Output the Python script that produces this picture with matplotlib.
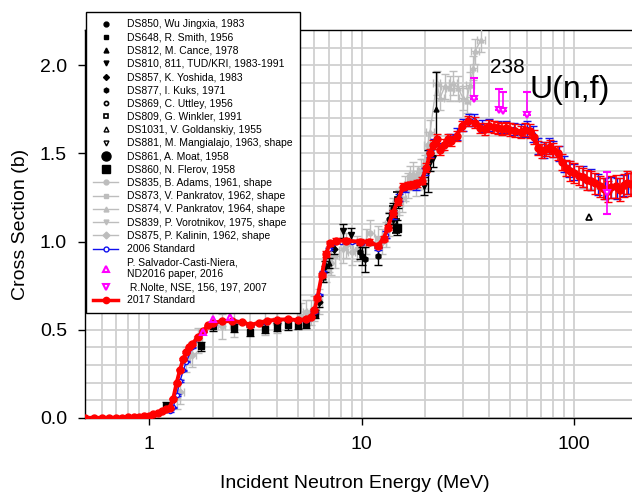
import matplotlib
matplotlib.use("Agg")
import matplotlib.pyplot as plt
from matplotlib.lines import Line2D
from matplotlib.ticker import FixedLocator, NullFormatter, FuncFormatter, MultipleLocator
import numpy as np

plt.rcParams['font.family'] = ['Liberation Sans', 'DejaVu Sans']

# ---- 2017 Standard ----
e17 = [0.5, 0.55, 0.6, 0.65, 0.7, 0.75, 0.8, 0.85, 0.9, 0.95,
       1.0, 1.05, 1.1, 1.15, 1.2, 1.25, 1.3, 1.35, 1.4, 1.45,
       1.5, 1.55, 1.6, 1.7, 1.8, 1.9, 2.0, 2.2, 2.45, 2.75,
       3.0, 3.3, 3.6, 4.0, 4.5, 5.0, 5.5, 5.8, 6.0, 6.2,
       6.5, 6.8, 7.1, 7.6, 8.5, 9.8, 10.9, 11.9, 12.7, 13.3,
       14.0, 14.8, 15.7, 16.5, 17.4, 18.3, 19.2, 20.2, 21.0, 21.8,
       22.6, 23.5, 24.5, 25.5, 26.5, 28.0, 29.6, 31.8, 34.2, 36.0,
       38, 40, 42, 44, 46, 48, 50, 53, 56, 59,
       62, 65, 68, 71, 74, 77, 80, 84, 88, 92,
       96, 100, 105, 110, 115, 120, 126, 132, 138, 144,
       150, 157, 164, 171, 178, 185, 192, 200]
s17 = [.001, .001, .001, .001, .002, .002, .003, .004, .006, .009,
       .014, .022, .030, .040, .050, .058, .110, .200, .275, .335,
       .375, .400, .420, .460, .495, .525, .540, .548, .550, .543,
       .528, .540, .552, .557, .560, .555, .560, .575, .610, .680,
       .810, .930, .990, 1.005, 1.005, 1.000, .998, .977, 1.017, 1.080,
       1.160, 1.230, 1.310, 1.320, 1.322, 1.330, 1.345, 1.420, 1.500, 1.550,
       1.580, 1.520, 1.550, 1.580, 1.570, 1.600, 1.655, 1.685, 1.675, 1.645,
       1.640, 1.655, 1.650, 1.645, 1.640, 1.645, 1.635, 1.630, 1.620, 1.635,
       1.625, 1.595, 1.530, 1.515, 1.525, 1.535, 1.520, 1.505, 1.450, 1.420,
       1.400, 1.390, 1.375, 1.365, 1.350, 1.345, 1.330, 1.315, 1.300, 1.285,
       1.310, 1.315, 1.295, 1.320, 1.335, 1.325, 1.330, 1.330]
u17 = [0, 0, 0, 0, 0, 0, 0, 0, 0, 0,
       0, 0, 0, 0, 0, 0, .005, .005, .005, .005,
       .005, .005, .005, .005, .005, .005, .005, .005, .005, .005,
       .005, .005, .005, .005, .005, .005, .005, .005, .008, .01,
       .012, .015, .015, .015, .015, .015, .015, .015, .015, .015,
       .02, .02, .02, .02, .02, .02, .02, .025, .025, .025,
       .03, .03, .03, .03, .03, .03, .03, .03, .03, .03,
       .035, .035, .035, .035, .035, .035, .035, .035, .035, .035,
       .04, .04, .04, .04, .04, .04, .04, .04, .045, .045,
       .055, .055, .055, .055, .055, .055, .06, .06, .06, .06,
       .065, .065, .065, .065, .065, .065, .065, .065]

# ---- 2006 Standard ----
e06 = [0.5, 0.7, 0.9, 1.0, 1.1, 1.2, 1.25, 1.3, 1.35, 1.4,
       1.45, 1.5, 1.6, 1.8, 2.0, 2.5, 3.0, 3.5, 4.0, 5.0,
       5.5, 6.0, 6.3, 6.6, 7.0, 8.0, 9.0, 10, 11, 12,
       13, 14, 15, 16, 18, 20, 21, 22, 24, 26,
       28, 30, 32, 34, 37, 40, 44, 48, 52, 56,
       60, 64, 68, 72, 76, 80, 85, 90, 95, 100,
       110, 120, 130, 140, 150, 160, 170, 180, 190, 200]
s06 = [.001, .002, .006, .013, .029, .045, .040, .060, .130, .210,
       .270, .320, .400, .490, .535, .548, .525, .545, .555, .553,
       .556, .600, .700, .830, .960, 1.000, 1.000, .995, .995, .960,
       1.040, 1.150, 1.250, 1.300, 1.315, 1.400, 1.500, 1.560, 1.540, 1.590,
       1.610, 1.660, 1.690, 1.690, 1.655, 1.660, 1.650, 1.650, 1.640, 1.630,
       1.640, 1.610, 1.540, 1.520, 1.540, 1.525, 1.500, 1.440, 1.410, 1.395,
       1.370, 1.350, 1.325, 1.300, 1.305, 1.300, 1.320, 1.330, 1.330, 1.335]
u06 = [.005] * 30 + [.02] * 10 + [.035] * 10 + [.045] * 10 + [.06] * 10

# ---- black data sets ----
e_wu, s_wu = [13.4, 14.1, 14.8], [1.13, 1.19, 1.22]
e_smith = [1.2, 1.75, 2.0, 2.5, 3.0, 3.5, 4.0, 4.5, 5.0, 5.5, 6.05]
s_smith = [0.068, 0.407, 0.52, 0.51, 0.49, 0.507, 0.516, 0.525, 0.53, 0.535, 0.59]
e_cance, s_cance, u_cance = [6.6, 7.0, 22.4], [0.80, 0.88, 1.75], [0.03, 0.03, 0.21]
e_tud = [8.2, 8.9, 19.7, 20.5, 21.0, 21.8]
s_tud = [1.06, 1.04, 1.317, 1.40, 1.45, 1.475]
u_tud = [0.04, 0.04, 0.05, 0.12, 0.05, 0.05]
e_yosh, s_yosh = [6.3, 6.75, 7.4], [0.66, 0.86, 0.96]
e_kuks, s_kuks, u_kuks = [9.8, 10.0, 10.4, 12.0], [0.94, 0.92, 0.90, 0.92], [0.04, 0.05, 0.07, 0.05]
e_uttl, s_uttl = [14.6], [1.09]
e_wink, s_wink = [14.1, 14.7], [1.16, 1.24]
e_gold, s_gold = [118], [1.14]
e_mang, s_mang = [14.0], [1.12]
e_moat, s_moat = [14.1], [1.14]
e_fler, s_fler = [14.7], [1.08]

# ---- grey shape data ----
e_adams = [1.35, 1.5, 1.7, 2.5, 4.0, 5.5, 7.2, 9.0, 11.0, 13.5, 15.0, 17.0, 19.0]
s_adams = [0.12, 0.33, 0.44, 0.53, 0.55, 0.60, 0.88, 0.94, 1.05, 1.10, 1.22, 1.36, 1.40]
e_pk62 = [5.2, 6.0, 7.5, 9.5, 12.0, 14.5, 16.0, 18.0, 20.0]
s_pk62 = [0.58, 0.62, 0.92, 0.96, 1.02, 1.16, 1.30, 1.33, 1.42]
e_pk64 = [14.0, 16.5, 19.5, 21.0, 22.6, 23.4, 24.7, 26.1, 27.0, 28.5, 30.0, 31.2, 32.4, 33.6, 34.2, 36.6]
s_pk64 = [1.18, 1.32, 1.40, 1.62, 1.90, 1.815, 1.88, 1.87, 1.90, 1.87, 1.815, 1.80, 1.89, 1.985, 2.08, 2.145]
e_voro = [6.3, 6.8, 8.2, 10.5, 13.0, 15.5, 18.5]
s_voro = [0.66, 0.84, 0.95, 1.0, 1.04, 1.24, 1.36]
e_kali = [1.4, 1.6, 2.2, 3.5, 5.8, 7.0, 8.5, 12.5, 17.5, 20.5]
s_kali = [0.15, 0.36, 0.52, 0.54, 0.60, 0.90, 0.98, 1.0, 1.38, 1.55]

# ---- magenta ----
e_salv, s_salv = [1.8, 2.0, 2.4], [0.49, 0.56, 0.573]
e_nolte = [33.8, 44.3, 46.5, 60.0, 143.0]
s_nolte = [1.806, 1.746, 1.74, 1.718, 1.274]
u_nolte_lo = [0, 0, 0, 0, 0.12]
u_nolte_hi = [0.12, 0.12, 0.11, 0.13, 0.12]

fig = plt.figure(figsize=(6.32, 4.93), dpi=100)
ax = fig.add_axes([85 / 632, 75 / 493, 553 / 632, 388 / 493])
ax.set_xscale('log')
ax.set_xlim(0.5, 200)
ax.set_ylim(0, 2.2)

grey = '#bdbdbd'
for e, s, m in [(e_adams, s_adams, 'o'), (e_pk62, s_pk62, 's'), (e_pk64, s_pk64, '^'),
                (e_voro, s_voro, 'v'), (e_kali, s_kali, 'D')]:
    ax.errorbar(e, s, yerr=0.07, xerr=np.array(e) * 0.04, fmt=m, ms=3.5, color=grey,
                ecolor=grey, elinewidth=1, capsize=3, zorder=3)
ax.plot(e_pk64, s_pk64, '-', color=grey, lw=1, zorder=3)

blk = dict(color='black', ecolor='black', elinewidth=1, capsize=3, zorder=4)
ax.errorbar(e_wu, s_wu, yerr=0.03, fmt='o', ms=3.5, **blk)
ax.errorbar(e_smith, s_smith, yerr=0.025, fmt='s', ms=4.5, **blk)
ax.errorbar(e_cance, s_cance, yerr=u_cance, fmt='^', ms=3.5, **blk)
ax.errorbar(e_tud, s_tud, yerr=u_tud, fmt='v', ms=4, **blk)
ax.errorbar(e_yosh, s_yosh, yerr=0.03, fmt='D', ms=3.5, **blk)
ax.errorbar(e_kuks, s_kuks, yerr=u_kuks, fmt='h', ms=4, **blk)
ax.errorbar(e_uttl, s_uttl, yerr=0.04, fmt='o', ms=3.5, mfc='white', mew=1.2, **blk)
ax.errorbar(e_wink, s_wink, yerr=0.04, fmt='s', ms=3.5, mfc='white', mew=1.2, **blk)
ax.plot(e_gold, s_gold, '^', ms=4, mfc='white', mec='black', mew=1.2, zorder=4)
ax.errorbar(e_mang, s_mang, yerr=0.04, fmt='v', ms=3.5, mfc='white', mew=1.2, **blk)
ax.errorbar(e_moat, s_moat, yerr=0.04, fmt='o', ms=5.5, **blk)
ax.errorbar(e_fler, s_fler, yerr=0.04, fmt='s', ms=5.5, **blk)

ax.errorbar(e06, s06, yerr=u06, fmt='-o', color='#1010ee', ms=3, mfc='white', mew=1,
            lw=1, elinewidth=1, capsize=3, zorder=5)
ax.errorbar(e17, s17, yerr=u17, fmt='-o', color='#ff0000', ms=5, lw=2.8,
            elinewidth=1.2, capsize=3, zorder=6)

ax.plot(e_salv, s_salv, '^', ms=5, mfc='none', mec='#ff00ff', mew=1.5, zorder=7)
ax.errorbar(e_nolte, s_nolte, yerr=[u_nolte_lo, u_nolte_hi], fmt='v', ms=5, mfc='white',
            mec='#ff00ff', mew=1.5, ecolor='#ff00ff', elinewidth=1.2, capsize=3, zorder=7)

# axes cosmetics
ax.yaxis.set_major_locator(MultipleLocator(0.5))
ax.yaxis.set_minor_locator(MultipleLocator(0.1))
ax.yaxis.set_major_formatter(FuncFormatter(lambda v, p: f'{v:.1f}'))
ax.xaxis.set_major_locator(FixedLocator([1, 10, 100]))
ax.xaxis.set_major_formatter(FuncFormatter(lambda v, p: f'{v:g}'))
minors = [m * d for d in (0.1, 1, 10, 100) for m in range(2, 10)]
ax.xaxis.set_minor_locator(FixedLocator(minors))
ax.xaxis.set_minor_formatter(NullFormatter())
ax.tick_params(which='major', length=5, width=1, labelsize=14, pad=8, direction='out')
ax.tick_params(which='minor', length=0)
ax.grid(which='both', color='#d0d0d0', lw=1.3)
ax.set_axisbelow(True)
for sp in ax.spines.values():
    sp.set_color('black')
    sp.set_linewidth(1)

ax.set_ylabel('Cross Section (b)', fontsize=14, labelpad=8)
ax.set_xlabel('Incident Neutron Energy (MeV)', fontsize=14)
ax.xaxis.set_label_coords(0.488, -0.148)

fig.text(490 / 632, 1 - 73 / 493, '238', fontsize=15, va='baseline')
fig.text(530 / 632, 1 - 98 / 493, 'U(n,f)', fontsize=23, va='baseline')

# legend
def mk(marker, ms=3.5, mfc='black', color='black', ls='none', lw=1, mew=1):
    return Line2D([], [], marker=marker, ms=ms, mfc=mfc, mec=color, color=color,
                  ls=ls, lw=lw, mew=mew)

handles = [
    mk('o', 3.5), mk('s', 3.5), mk('^', 3.5), mk('v', 3.5), mk('D', 3), mk('h', 3.5),
    mk('o', 3, 'white', mew=1.2), mk('s', 3, 'white', mew=1.2), mk('^', 3.5, 'white', mew=1),
    mk('v', 3.5, 'white', mew=1), mk('o', 6.5), mk('s', 6),
    mk('o', 3.5, grey, grey, '-'), mk('s', 3.5, grey, grey, '-'), mk('^', 3.5, grey, grey, '-'),
    mk('v', 3.5, grey, grey, '-'), mk('D', 3.5, grey, grey, '-'),
    mk('o', 3.5, 'white', '#1010ee', '-'),
    mk('^', 5, 'none', '#ff00ff', mew=1.5), mk('v', 5, 'none', '#ff00ff', mew=1.5),
    mk('o', 4.5, '#ff0000', '#ff0000', '-', lw=2.5),
]
labels = [
    'DS850, Wu Jingxia, 1983', 'DS648, R. Smith, 1956', 'DS812, M. Cance, 1978',
    'DS810, 811, TUD/KRI, 1983-1991', 'DS857, K. Yoshida, 1983', 'DS877, I. Kuks, 1971',
    'DS869, C. Uttley, 1956', 'DS809, G. Winkler, 1991', 'DS1031, V. Goldanskiy, 1955',
    'DS881, M. Mangialajo, 1963, shape', 'DS861, A. Moat, 1958', 'DS860, N. Flerov, 1958',
    'DS835, B. Adams, 1961, shape', 'DS873, V. Pankratov, 1962, shape',
    'DS874, V. Pankratov, 1964, shape', 'DS839, P. Vorotnikov, 1975, shape',
    'DS875, P. Kalinin, 1962, shape', '2006 Standard',
    'P. Salvador-Casti-Niera,\nND2016 paper, 2016', ' R.Nolte, NSE, 156, 197, 2007',
    '2017 Standard',
]
leg = fig.legend(handles, labels, loc='upper left', bbox_to_anchor=(86 / 632, 1 - 12 / 493),
                 fontsize=7.5, frameon=True, fancybox=False, framealpha=1, edgecolor='black',
                 borderaxespad=0, borderpad=0.7, labelspacing=0.31, handlelength=2.4,
                 handletextpad=0.8)
leg.get_frame().set_linewidth(1)
leg.set_zorder(10)

fig.savefig('out.png', dpi=100)
